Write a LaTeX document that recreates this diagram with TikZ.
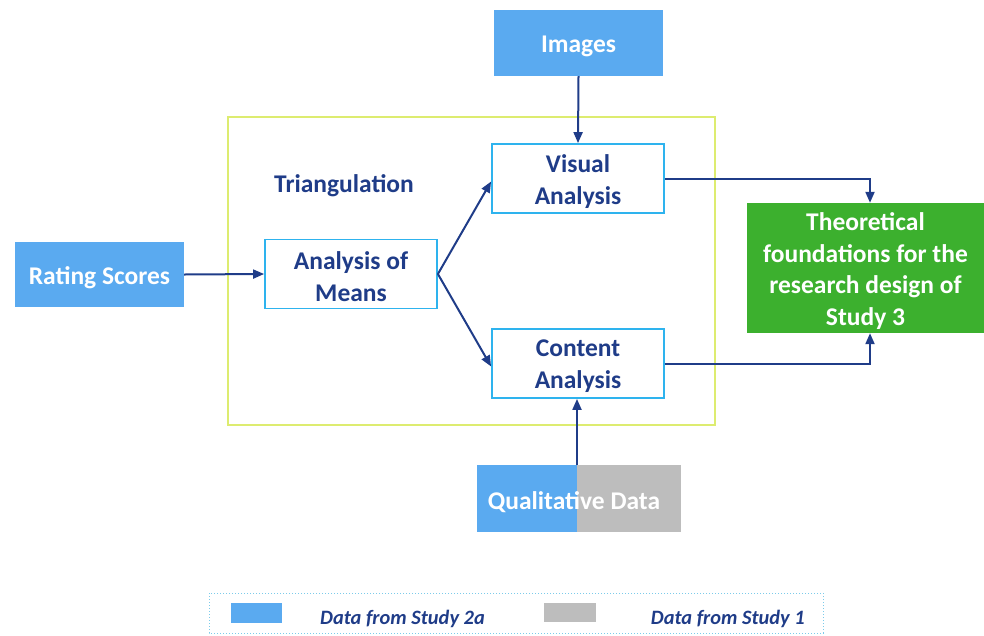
\documentclass[tikz,border=0pt]{standalone}
\usepackage{fontspec}
\setmainfont{Carlito}
\usetikzlibrary{arrows.meta}
\definecolor{boxblue}{HTML}{5AAAF0}
\definecolor{boxgrey}{HTML}{BDBDBD}
\definecolor{boxgreen}{HTML}{3CB02E}
\definecolor{navy}{HTML}{1F3C88}
\definecolor{edgecyan}{HTML}{2EB3EE}
\definecolor{frameyg}{HTML}{DDEC70}
\definecolor{legdot}{HTML}{7CCBEA}
\tikzset{
  fillbox/.style={draw=none, inner sep=0pt},
  stagebox/.style={draw=edgecyan, line width=1.8pt, fill=white, minimum width=172pt, minimum height=69pt, inner sep=0pt},
  whitetext/.style={text=white, inner sep=0pt, font=\fontsize{25.5}{31.5}\selectfont\bfseries, align=center},
  navytext/.style={text=navy, inner sep=0pt, font=\fontsize{25.5}{32}\selectfont\bfseries, align=center},
  link/.style={draw=navy, line width=2pt, -{Triangle[length=11pt,width=9pt]}},
  legtext/.style={text=navy, inner sep=0pt, font=\fontsize{20.4}{24}\selectfont\bfseries\itshape}
}
\begin{document}
\begin{tikzpicture}[x=1pt,y=-1pt]
\useasboundingbox (0,0) rectangle (984,635);
% triangulation frame
\draw[frameyg, line width=2pt] (228,117) rectangle (715,425);
\node[navytext] (tri) at (344,186) {Triangulation};
% source boxes
\node[fillbox, fill=boxblue, minimum width=169pt, minimum height=66pt] (img) at (578.5,43) {};
\node[whitetext] (imgT) at ([yshift=-3pt]img.center) {Images};
\node[fillbox, fill=boxblue, minimum width=169pt, minimum height=65pt] (rate) at (99.5,274.5) {};
\node[whitetext] (rateT) at ([yshift=-3pt]rate.center) {Rating Scores};
\fill[boxblue] (477,465) rectangle (577,532);
\fill[boxgrey] (577,465) rectangle (681,532);
\node[whitetext] (qual) at (574,502) {Qualitative Data};
\coordinate (qtop) at (577,465);
% analysis stages
\node[stagebox] (means) at (351,274) {};
\node[navytext] (meansT) at ([yshift=-3pt]means.center) {Analysis of\\Means};
\node[stagebox] (vis) at (578,178.5) {};
\node[navytext] (visT) at ([yshift=-3pt]vis.center) {Visual\\Analysis};
\node[stagebox] (cont) at (578,363.5) {};
\node[navytext] (contT) at ([yshift=-3pt]cont.center) {Content\\Analysis};
% outcome
\node[fillbox, fill=boxgreen, minimum width=237pt, minimum height=130pt] (theo) at (865.5,268) {};
\node[whitetext] (theoT) at ([yshift=-3pt]theo.center) {Theoretical\\foundations for the\\research design of\\Study 3};
% connectors
\draw[link] (img.south) -- (vis.north);
\draw[link] (rate.east) -- (means.west);
\draw[link] (means.east) -- ([yshift=-3pt]vis.west);
\draw[link] (means.east) -- ([yshift=-3pt]cont.west);
\draw[link] (vis.east) -| ([xshift=4.5pt]theo.north);
\draw[link] (cont.east) -| ([xshift=4.5pt]theo.south);
\draw[link] (qtop) -- (qtop |- cont.south);
% legend
\draw[legdot, line width=1pt, dotted] (209,593) rectangle (823,633);
\fill[boxblue] (231,603) rectangle (282,623);
\fill[boxgrey] (544,603) rectangle (596,622);
\node[legtext, anchor=base west] (leg1) at (320,624) {Data from Study 2a};
\node[legtext, anchor=base east] (leg2) at (805,624) {Data from Study 1};
\end{tikzpicture}
\end{document}
